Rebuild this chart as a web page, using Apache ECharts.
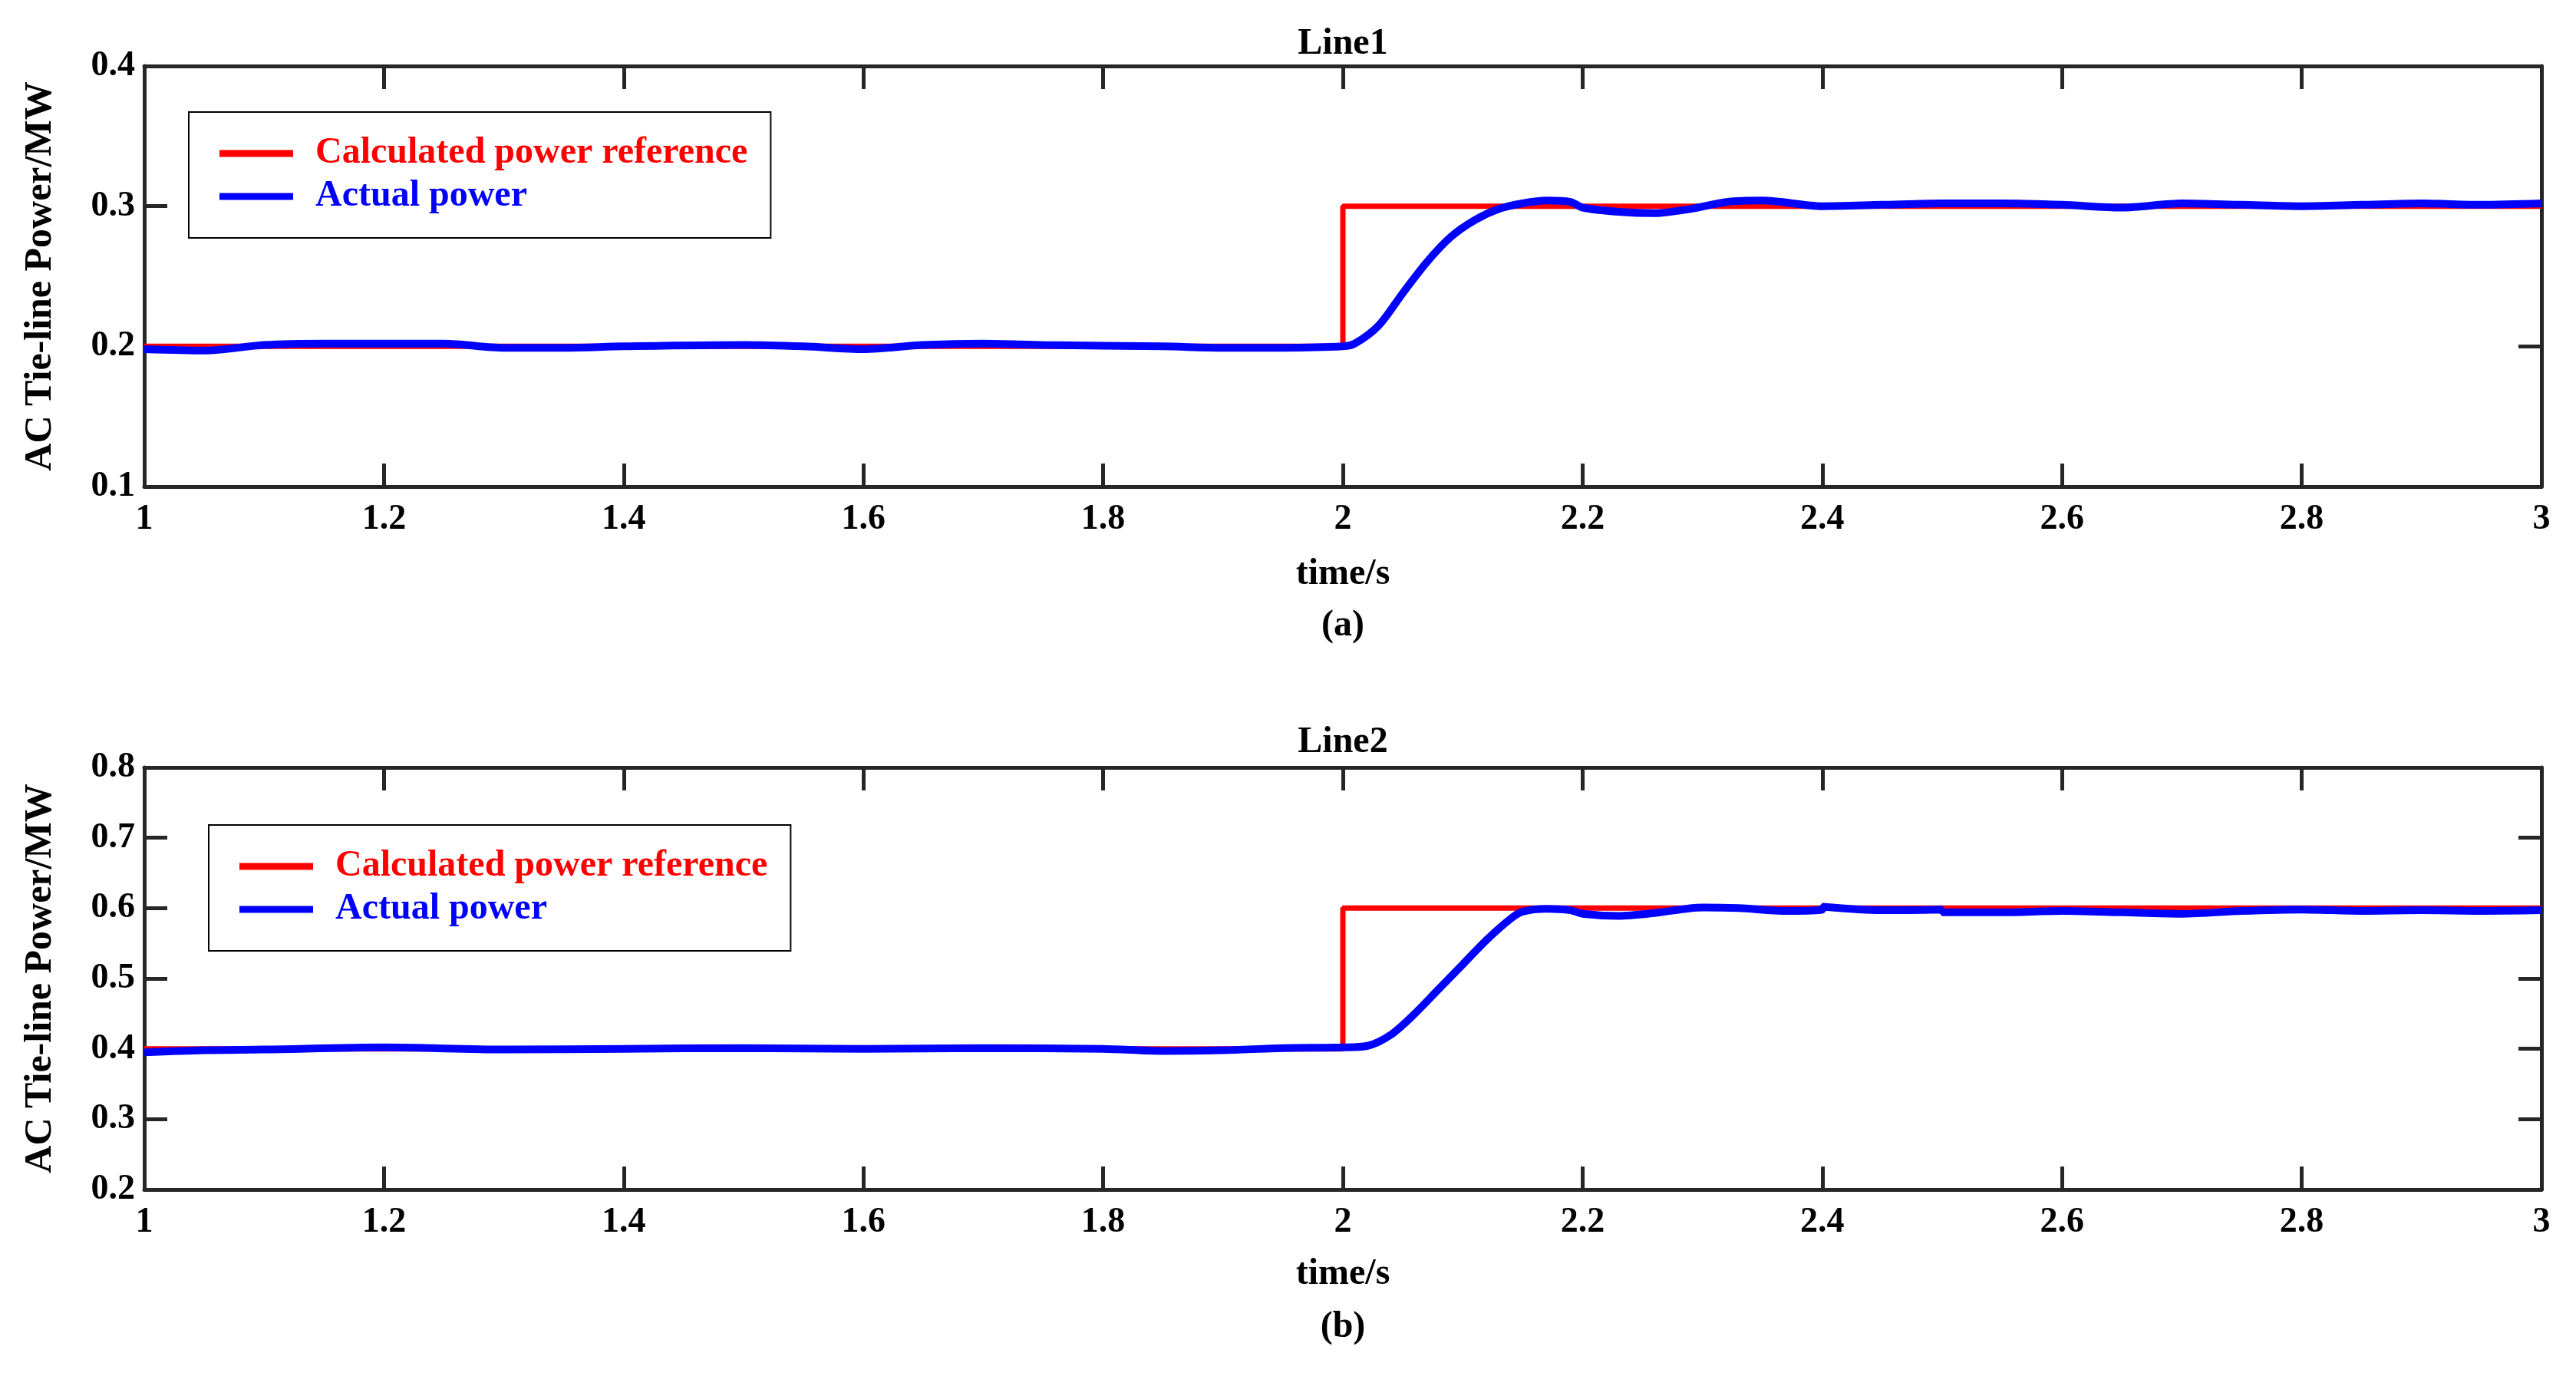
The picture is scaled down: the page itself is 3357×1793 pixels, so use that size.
<html>
<head>
<script src="https://cdn.jsdelivr.net/npm/echarts@6/dist/echarts.min.js"></script>
</head>
<body style="margin:0">
<div id="main" style="width:3357px;height:1793px;"></div>
<script type="text/javascript">
// 数据
var xTicks = [1, 1.2, 1.4, 1.6, 1.8, 2, 2.2, 2.4, 2.6, 2.8, 3];
var ref1 = [[1, 0.2], [2, 0.3], [3, 0.3]];
var act1 = [[1,0.198],[1.05,0.197],[1.1,0.201],[1.15,0.202],[1.2,0.202],[1.25,0.202],[1.3,0.199],[1.35,0.199],[1.4,0.2],[1.5,0.201],[1.55,0.2],[1.6,0.198],[1.65,0.201],[1.7,0.202],[1.75,0.201],[1.85,0.2],[1.9,0.199],[1.95,0.199],[2,0.2],[2.01,0.202],[2.03,0.215],[2.05,0.238],[2.07,0.26],[2.09,0.278],[2.11,0.29],[2.13,0.298],[2.15,0.302],[2.17,0.304],[2.19,0.303],[2.2,0.299],[2.23,0.296],[2.26,0.295],[2.29,0.298],[2.32,0.303],[2.35,0.304],[2.4,0.3],[2.45,0.301],[2.5,0.302],[2.55,0.302],[2.6,0.301],[2.65,0.299],[2.7,0.302],[2.75,0.301],[2.8,0.3],[2.85,0.301],[2.9,0.302],[2.95,0.301],[3,0.302]];
var ref2 = [[1, 0.4], [2, 0.6], [3, 0.6]];
var act2 = [[1,0.395],[1.05,0.398],[1.1,0.399],[1.2,0.402],[1.3,0.399],[1.4,0.4],[1.5,0.401],[1.6,0.4],[1.7,0.401],[1.8,0.4],[1.85,0.397],[1.9,0.398],[1.95,0.401],[2,0.402],[2.02,0.404],[2.04,0.42],[2.06,0.45],[2.08,0.485],[2.1,0.52],[2.12,0.555],[2.14,0.585],[2.15,0.595],[2.17,0.599],[2.19,0.597],[2.2,0.592],[2.23,0.589],[2.26,0.593],[2.3,0.601],[2.33,0.6],[2.37,0.596],[2.4,0.598],[2.4,0.602],[2.45,0.597],[2.5,0.598],[2.5,0.594],[2.55,0.594],[2.6,0.596],[2.65,0.594],[2.7,0.592],[2.75,0.596],[2.8,0.598],[2.85,0.596],[2.9,0.597],[2.95,0.596],[3,0.597]];

var font = 'Liberation Serif';
var axisColor = '#262626';
var lineStyle = { color: axisColor, width: 5 };

function xAxes(idx, showLabel, pos) {
    return {
        type: 'value', gridIndex: idx, min: 1, max: 3, interval: 0.2, position: pos,
        axisLine: { show: true, onZero: false, lineStyle: lineStyle },
        axisTick: { show: true, inside: true, length: 30, lineStyle: lineStyle },
        splitLine: { show: false },
        axisLabel: { show: showLabel, color: '#000', fontFamily: font, fontWeight: 'bold', fontSize: 46, margin: 20,
            formatter: function (v) { return +v.toFixed(1) + ''; } }
    };
}
function yAxes(idx, min, max, showLabel, pos) {
    return {
        type: 'value', gridIndex: idx, min: min, max: max, interval: 0.1, position: pos,
        axisLine: { show: true, onZero: false, lineStyle: lineStyle },
        axisTick: { show: true, inside: true, length: 30, lineStyle: lineStyle },
        splitLine: { show: false },
        name: showLabel ? 'AC Tie-line Power/MW' : '', nameLocation: 'middle', nameGap: 110,
        nameTextStyle: { color: '#000', fontFamily: font, fontWeight: 'bold', fontSize: 50 },
        axisLabel: { show: showLabel, color: '#000', fontFamily: font, fontWeight: 'bold', fontSize: 46, margin: 12,
            formatter: function (v) { return +v.toFixed(1) + ''; } }
    };
}
function legend(left, top) {
    return {
        left: left, top: top, orient: 'vertical', itemWidth: 96, itemHeight: 9, itemGap: 8,
        padding: [30, 30, 30, 40], borderColor: '#000', borderWidth: 2, backgroundColor: '#fff',
        icon: 'rect',
        data: [
            { name: 'Calculated power reference', textStyle: { color: '#ff0000' } },
            { name: 'Actual power', textStyle: { color: '#0000ff' } }
        ],
        textStyle: { fontFamily: font, fontWeight: 'bold', fontSize: 48, padding: [0, 0, 0, 24] }
    };
}
function textEl(txt, x, y) {
    return { type: 'text', x: x, y: y, style: { text: txt, fontFamily: font, fontWeight: 'bold', fontSize: 48, fill: '#000', align: 'center', verticalAlign: 'middle' } };
}

var myChart = echarts.init(document.getElementById('main'));
var option = {
    backgroundColor: '#fff',
    animation: false,
    grid: [
        { left: 188, width: 3124, top: 86, height: 548 },
        { left: 188, width: 3124, top: 1000, height: 550 }
    ],
    xAxis: [xAxes(0, true, 'bottom'), xAxes(0, false, 'top'), xAxes(1, true, 'bottom'), xAxes(1, false, 'top')],
    yAxis: [yAxes(0, 0.1, 0.4, true, 'left'), yAxes(0, 0.1, 0.4, false, 'right'), yAxes(1, 0.2, 0.8, true, 'left'), yAxes(1, 0.2, 0.8, false, 'right')],
    legend: [legend(246, 146), legend(272, 1075)],
    graphic: [
        textEl('Line1', 1750, 58), textEl('time/s', 1750, 749), textEl('(a)', 1750, 816),
        textEl('Line2', 1750, 968), textEl('time/s', 1750, 1661), textEl('(b)', 1750, 1730)
    ],
    series: [
        { name: 'Calculated power reference', type: 'line', xAxisIndex: 0, yAxisIndex: 0, step: 'end', data: ref1, symbol: 'none', lineStyle: { color: '#ff0000', width: 7 }, itemStyle: { color: '#ff0000' } },
        { name: 'Actual power', type: 'line', xAxisIndex: 0, yAxisIndex: 0, data: act1, smooth: 0.3, symbol: 'none', lineStyle: { color: '#0000ff', width: 10 }, itemStyle: { color: '#0000ff' } },
        { name: 'Calculated power reference', type: 'line', xAxisIndex: 2, yAxisIndex: 2, step: 'end', data: ref2, symbol: 'none', lineStyle: { color: '#ff0000', width: 7 }, itemStyle: { color: '#ff0000' } },
        { name: 'Actual power', type: 'line', xAxisIndex: 2, yAxisIndex: 2, data: act2, smooth: 0.3, symbol: 'none', lineStyle: { color: '#0000ff', width: 10 }, itemStyle: { color: '#0000ff' } }
    ]
};
myChart.setOption(option);
</script>
</body>
</html>
